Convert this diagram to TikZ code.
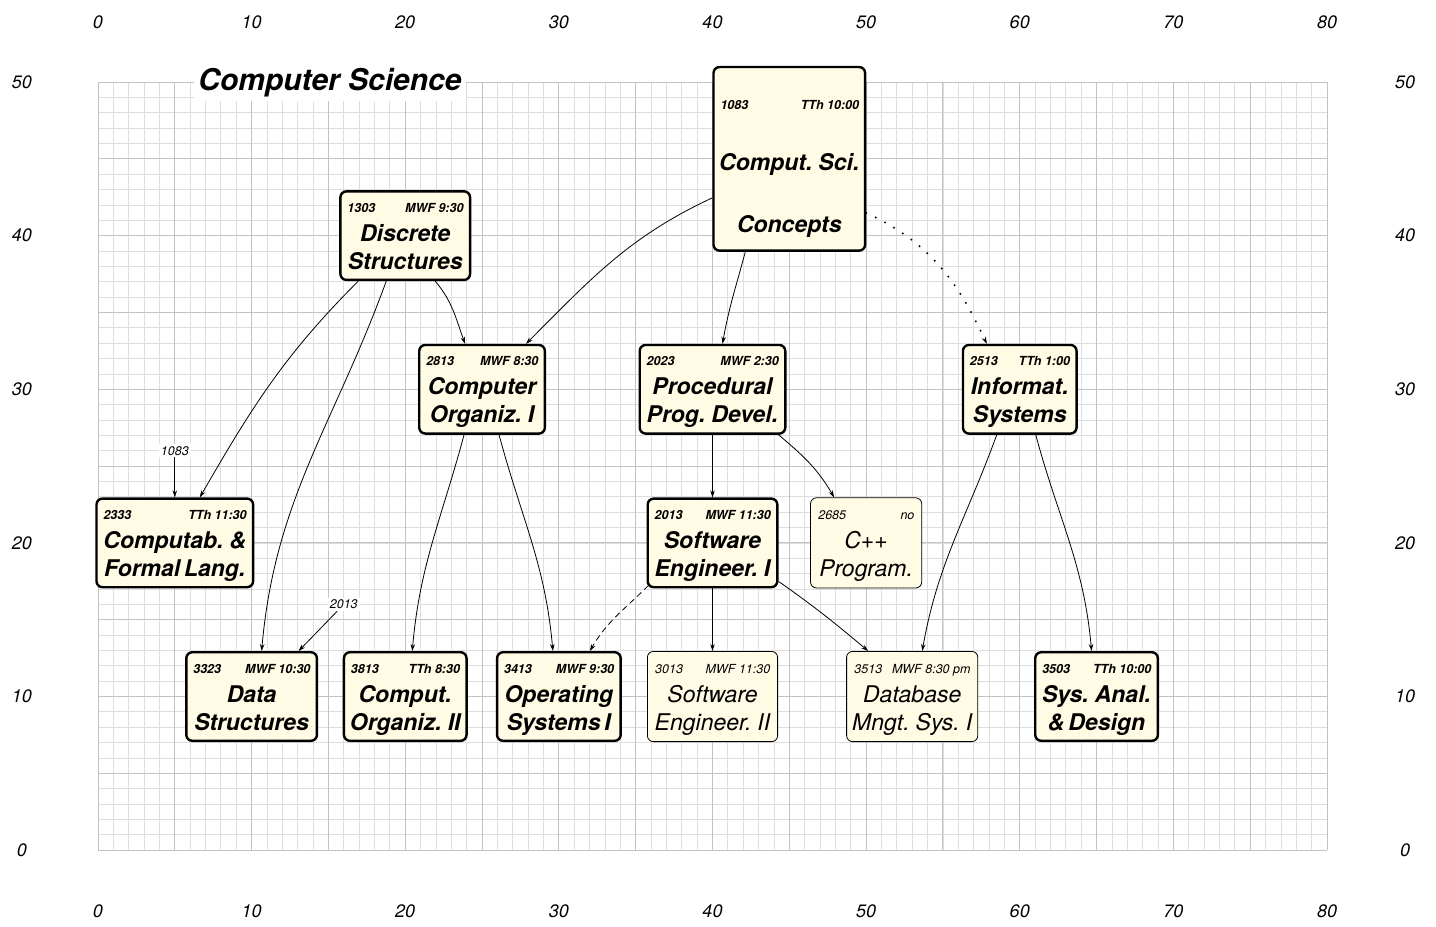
\documentclass[tikz,border=0pt]{standalone}
\usepackage{fontspec}
\setmainfont{TeX Gyre Heros}
\usetikzlibrary{arrows.meta,calc}
\definecolor{cream}{RGB}{255,251,228}
\definecolor{gminor}{RGB}{222,222,222}
\definecolor{gmajor}{RGB}{195,195,195}
\newcommand\tightsp{\spaceskip 0.17em\relax}
\tikzset{
 hbox/.style={draw=black, line width=2.4pt, fill=cream, rounded corners=6pt, inner sep=0pt, minimum height=88.6pt},
 lbox/.style={draw=black, line width=0.8pt, fill=cream, rounded corners=6pt, inner sep=0pt, minimum height=90.2pt},
 hsmall/.style={inner sep=0pt, font=\fontsize{12.5}{14}\selectfont\bfseries\itshape},
 lsmall/.style={inner sep=0pt, font=\fontsize{12.5}{14}\selectfont\itshape},
 htitle/.style={inner sep=0pt, font={\fontsize{23}{28}\selectfont\bfseries\itshape\tightsp}},
 ltitle/.style={inner sep=0pt, font={\fontsize{23}{28}\selectfont\itshape\tightsp}},
 conn/.style={line width=0.8pt, -{Stealth[length=7pt,width=4.5pt]}},
 axlabel/.style={font=\fontsize{18}{20}\selectfont\itshape},
 note/.style={font=\fontsize{12.5}{14}\selectfont\itshape, fill=white, inner sep=2pt},
 titlestyle/.style={font=\fontsize{30}{34}\selectfont\bfseries\itshape, fill=white, inner sep=4pt},
 dotline/.style={line cap=round, dash pattern=on 0pt off 10.5pt, line width=2.2pt, -{Stealth[length=7pt,width=4.5pt,line width=0.5pt]}},
}
\newcommand\course[8]{%
  \node[#8box, minimum width=#3] (#1) at (#2) {};
  \node[#8small, anchor=base west] (#1-code) at ([xshift=8pt,yshift=-22pt]#1.north west) {#4};
  \node[#8small, anchor=base east] (#1-time) at ([xshift=-7.5pt,yshift=-22pt]#1.north east) {#5};
  \node[#8title, anchor=base] (#1-t1) at ([yshift=-51pt]#1.north) {#6};
  \node[#8title, anchor=base] (#1-t2) at ([yshift=-79pt]#1.north) {#7};
}
\begin{document}
\begin{tikzpicture}[x=15.3625pt,y=15.3625pt]
\useasboundingbox (-6.379,-4.948) rectangle (87.096,55.34);
% grid
\draw[gminor, line width=0.8pt] (0,0) grid[step=1] (80,50);
\draw[gmajor, line width=0.9pt] (0,0) grid[step=5] (80,50);
% axis labels
\foreach \x in {0,10,...,80} {
  \node[axlabel] (top\x) at (\x,53.9) {\x};
  \node[axlabel] (bot\x) at (\x,-4.0) {\x};
}
\foreach \y in {0,10,...,50} {
  \node[axlabel] (lft\y) at (-4.95,\y) {\y};
  \node[axlabel] (rgt\y) at (85.08,\y) {\y};
}
% title
\node[titlestyle] (title) at (15.1,49.95) {Computer Science};
% big node
\node[hbox, minimum width=151.6pt, minimum height=183.6pt] (cs) at (45,45) {};
\node[hsmall, anchor=base west] (cs-code) at ([xshift=8pt,yshift=-43.5pt]cs.north west) {1083};
\node[hsmall, anchor=base east] (cs-time) at ([xshift=-7pt,yshift=-43.5pt]cs.north east) {TTh 10:00};
\node[htitle, anchor=base] (cs-t1) at ([yshift=-105pt]cs.north) {Comput. Sci.};
\node[htitle, anchor=base] (cs-t2) at ([yshift=-167pt]cs.north) {Concepts};
% courses
\course{ds}{20,40}{129.6pt}{1303}{MWF 9:30}{Discrete}{Structures}{h}
\course{co}{25,30}{125.6pt}{2813}{MWF 8:30}{Computer}{Organiz. I}{h}
\course{pp}{40,30}{145.6pt}{2023}{MWF 2:30}{Procedural}{Prog. Devel.}{h}
\course{is}{60,30}{113.6pt}{2513}{TTh 1:00}{Informat.}{Systems}{h}
\course{cf}{5,20}{156.6pt}{2333}{TTh 11:30}{Computab. \&}{Formal Lang.}{h}
\course{se}{40,20}{129.6pt}{2013}{MWF 11:30}{Software}{Engineer. I}{h}
\course{cpp}{50,20}{111.2pt}{2685}{no}{C++}{Program.}{l}
\course{dstr}{10,10}{130.6pt}{3323}{MWF 10:30}{Data}{Structures}{h}
\course{co2}{20,10}{122.6pt}{3813}{TTh 8:30}{Comput.}{Organiz. II}{h}
\course{os}{30,10}{123.6pt}{3413}{MWF 9:30}{Operating}{Systems I}{h}
\course{se2}{40,10}{130.2pt}{3013}{MWF 11:30}{Software}{Engineer. II}{l}
\course{db}{53,10}{131.2pt}{3513}{MWF 8:30 pm}{Database}{Mngt. Sys. I}{l}
\course{sa}{65,10}{122.6pt}{3503}{TTh 10:00}{Sys. Anal.}{\& Design}{h}
% connectors
\draw[conn] ([xshift=-47pt]ds.south) to[out=225,in=60] ([xshift=25pt]cf.north);
\draw[conn] ([xshift=-19pt]ds.south) to[out=250,in=85] ([xshift=10pt]dstr.north);
\draw[conn] ([xshift=30pt]ds.south) to[out=-50,in=110] ([xshift=-17pt]co.north);
\draw[conn] ([yshift=-39pt]cs.west) to[out=205,in=45] ([xshift=44pt]co.north);
\draw[conn] ([xshift=-44pt]cs.south) to[out=255,in=80] ([xshift=10pt]pp.north);
\draw[dotline] ([yshift=-54pt]cs.east) to[out=-25,in=115] ([xshift=-33pt]is.north);
\draw[conn] ([xshift=-18pt]co.south) to[out=255,in=85] ([xshift=7pt]co2.north);
\draw[conn] ([xshift=17pt]co.south) to[out=-75,in=95] ([xshift=-6pt]os.north);
\draw[conn] (pp.south) -- (se.north);
\draw[conn] ([xshift=66pt]pp.south) to[out=-40,in=120] ([xshift=-32pt]cpp.north);
\draw[conn] (se.south) -- (se2.north);
\draw[conn] ([yshift=7pt]se.south east) to[out=-35,in=140] ([xshift=-44pt]db.north);
\draw[conn, dash pattern=on 6pt off 4pt] ([xshift=2pt,yshift=3pt]se.south west) to[out=225,in=60] ([xshift=31pt]os.north);
\draw[conn] ([xshift=-23pt]is.south) to[out=250,in=80] ([xshift=10pt]db.north);
\draw[conn] ([xshift=16pt]is.south) to[out=-75,in=95] ([xshift=-5pt]sa.north);
\node[note] (n1) at (5,26) {1083};
\draw[conn] (n1) -- (cf.north);
\node[note] (n2) at (16,16) {2013};
\draw[conn] (n2) -- ([xshift=47pt]dstr.north);
\end{tikzpicture}
\end{document}
